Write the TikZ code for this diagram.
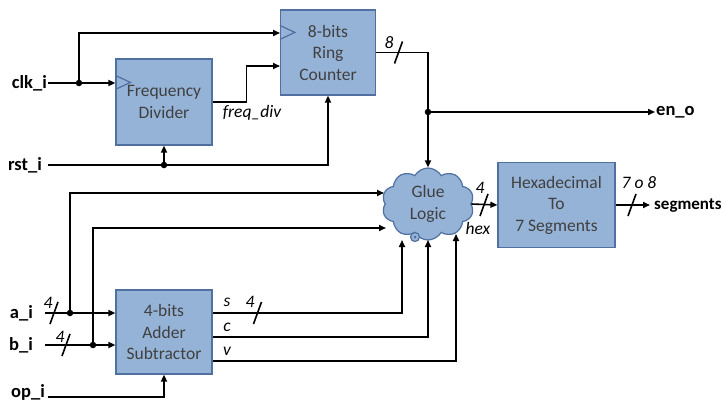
\documentclass[tikz,border=0pt]{standalone}
\usepackage{fontspec}
\setmainfont{Carlito}
\usetikzlibrary{arrows.meta, positioning, shapes.symbols, calc}
\definecolor{boxfill}{RGB}{149,179,215}
\definecolor{boxline}{RGB}{79,112,160}
\definecolor{boxtext}{RGB}{64,64,64}
\tikzset{
  block/.style={rectangle, draw=boxline, fill=boxfill, line width=1.2pt,
                text=boxtext, font=\fontsize{17.5}{21.5}\selectfont,
                minimum width=96pt, minimum height=85pt,
                inner sep=0pt, align=center},
  gluebox/.style={cloud, cloud puffs=10, cloud puff arc=120,
                  draw=boxline, fill=boxfill, line width=1.2pt,
                  text=boxtext, font=\fontsize{17.5}{21.5}\selectfont,
                  minimum width=92pt, minimum height=72pt,
                  inner sep=0pt, align=center},
  port/.style={font=\fontsize{18.5}{20}\selectfont\bfseries, inner sep=1pt},
  sig/.style={font=\fontsize{17.5}{20}\selectfont\itshape, inner sep=0pt},
  arr/.style={-{Triangle[length=7pt,width=6pt]}, line width=1.6pt},
  wire/.style={line width=1.6pt},
  dot/.style={circle, fill=black, inner sep=0pt, minimum size=6.5pt},
  clkmark/.style={draw=boxline, line width=1.2pt},
}
\begin{document}
\begin{tikzpicture}[x=1pt, y=-1pt]
  \useasboundingbox (0,0) rectangle (726,402);
  %% Blocks
  \node[block, minimum width=95pt] (ring) at (328,52.5) {8-bits\\Ring\\Counter};
  \node[block, minimum height=86pt] (div) at (164,102) {Frequency\\Divider};
  \node[block, minimum height=84pt] (add) at (164,332) {4-bits\\Adder\\Subtractor};
  \node[block, minimum width=117pt] (hex) at (556.5,205) {Hexadecimal\\To\\7 Segments};
  \node[gluebox] (glue) at (428,204) {Glue\\Logic};
  \draw[boxline, fill=boxfill, line width=1.2pt] (415,237) circle (4.5pt);
  \fill[boxline] (415,237) circle (1.5pt);
  %% Clock marks
  \draw[clkmark] ($(ring.north west)+(0,16)$) -- ++(15,7) -- ++(-15,7);
  \draw[clkmark] ($(div.north west)+(0,17)$) -- ++(15,7) -- ++(-15,7);
  %% Ports
  \node[port, anchor=east] (clk) at (48,83)  {clk\_i};
  \node[port, anchor=east, inner xsep=6pt] (rst) at (48,165) {rst\_i};
  \node[port, anchor=east, inner xsep=12pt] (ain) at (45,313) {a\_i};
  \node[port, anchor=east, inner xsep=12pt] (bin) at (45,345) {b\_i};
  \node[port, anchor=east, inner xsep=3pt] (op)  at (48,392) {op\_i};
  \node[port, anchor=west] (en)  at (655,112) {en\_o};
  \node[port, anchor=west, font=\fontsize{17}{20}\selectfont\bfseries,
        inner xsep=4pt] (seg) at (650,206) {segments};
  %% Junctions and end points
  \node[dot] (jclk) at (79,83) {};
  \node[dot] (jrst) at (div.south |- rst.east) {};
  \node[dot] (jen)  at (428,112) {};
  \node[dot] (ja)   at (70,313) {};
  \node[dot] (jb)   at (93,345) {};
  \coordinate (rclk) at (280,33);
  \coordinate (rfrq) at (280,66);
  \coordinate (gina) at (384,193);
  \coordinate (ginb) at (386,228);
  \coordinate (gins) at (402,240);
  \coordinate (ginc) at (428,240);
  \coordinate (ginv) at (456,234);
  %% Connectors
  \draw[arr] (clk.east) -- (div.west |- clk.east);
  \draw[arr] (jclk) |- (rclk);
  \draw[arr] (div.east) -- ++(34,0) |- (rfrq);
  \draw[arr] (rst.east) -| (ring.south);
  \draw[arr] (jrst) -- (div.south);
  \draw[arr] (ring.east) -| (glue.north);
  \draw[arr] (jen) -- (en.west);
  \draw[arr] (glue.east) -- (hex.west);
  \draw[arr] (hex.east) -- (seg.west |- hex.east);
  \draw[arr] (ain.east) -- (add.west |- ain.east);
  \draw[arr] (bin.east) -- (add.west |- bin.east);
  \draw[arr] (ja) |- (gina);
  \draw[arr] (jb) |- (ginb);
  \draw[arr] ([yshift=-5pt]op.east) -| (add.south);
  \draw[arr] (add.east |- ain.east) -| (gins);
  \draw[arr] (add.east |- 0,337) -| (ginc);
  \draw[arr] (add.east |- 0,361) -| (ginv);
  %% Bus slashes
  \foreach \x/\y in {398.5/52.5, 484/205, 632/205, 54/313, 66/345, 257.5/313}
    \draw[wire] (\x-4,\y+11) -- (\x+4,\y-11);
  %% Signal labels
  \node[sig] (l8)   at (389,43)  {8};
  \node[sig] (lfd)  at (252,113) {freq\_div};
  \node[sig] (l4g)  at (480,188) {4};
  \node[sig] (lhex) at (478,228) {hex};
  \node[sig] (l78)  at (639,183) {7 o 8};
  \node[sig] (l4a)  at (48,303)  {4};
  \node[sig] (l4b)  at (60,337)  {4};
  \node[sig] (ls)   at (227,302) {s};
  \node[sig] (l4s)  at (250,302) {4};
  \node[sig] (lc)   at (227,327) {c};
  \node[sig] (lv)   at (227,351) {v};
\end{tikzpicture}
\end{document}
